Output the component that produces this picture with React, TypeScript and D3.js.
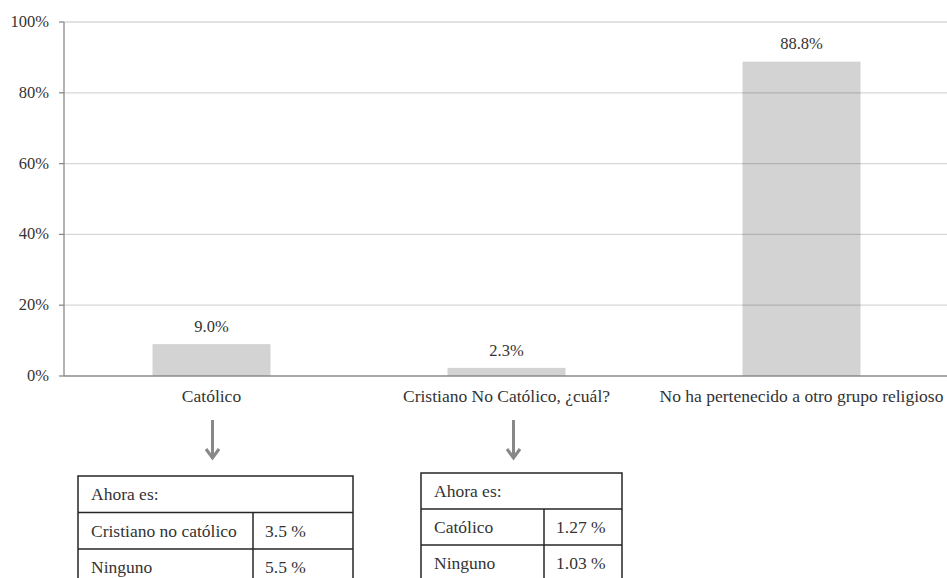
import React from "react";
import * as d3 from "d3";

// Religion left behind, share of respondents
const categories = [
  "Católico",
  "Cristiano No Católico, ¿cuál?",
  "No ha pertenecido a otro grupo religioso",
];
const values = [9.0, 2.3, 88.8];
const yTicks = [0, 20, 40, 60, 80, 100];

// Breakdown of what each group is now
const tableHeader = "Ahora es:";
const catolicoNowLabels = ["Cristiano no católico", "Ninguno"];
const catolicoNowValues = ["3.5 %", "5.5 %"];
const cristianoNowLabels = ["Católico", "Ninguno"];
const cristianoNowValues = ["1.27 %", "1.03 %"];

const W = 947;
const H = 578;
const FONT = "Liberation Serif, DejaVu Serif, Noto Serif, Times New Roman, serif";
const TEXT = "#333";
const FS_NUM = 16.5;
const FS_TXT = 17.5;

type TableProps = {
  x: number;
  y: number;
  w: number;
  col: number;
  rowH: number;
  labels: string[];
  vals: string[];
};

function NowTable({ x, y, w, col, rowH, labels, vals }: TableProps) {
  const bottom = y + rowH * (labels.length + 1);
  const stroke = "#262626";
  return (
    <g fontSize={FS_TXT} fill={TEXT}>
      <rect x={x} y={y} width={w} height={bottom - y} fill="none" stroke={stroke} strokeWidth={1.5} />
      {labels.map((_, i) => (
        <line key={i} x1={x} x2={x + w} y1={y + rowH * (i + 1)} y2={y + rowH * (i + 1)} stroke={stroke} strokeWidth={1.5} />
      ))}
      <line x1={x + col} x2={x + col} y1={y + rowH} y2={bottom} stroke={stroke} strokeWidth={1.5} />
      <text x={x + 13} y={y + rowH / 2} dy="0.35em">{tableHeader}</text>
      {labels.map((l, i) => (
        <g key={l}>
          <text x={x + 13} y={y + rowH * (i + 1.5)} dy="0.35em">{l}</text>
          <text x={x + col + 12} y={y + rowH * (i + 1.5)} dy="0.35em">{vals[i]}</text>
        </g>
      ))}
    </g>
  );
}

export default function App() {
  const left = 64;
  const right = 949;
  const top = 22;
  const base = 376;

  const x = d3.scaleBand<string>().domain(categories).range([left, right]).paddingInner(0.6).paddingOuter(0.3);
  const y = d3.scaleLinear().domain([0, 100]).range([base, top]);
  const center = (c: string) => (x(c) ?? 0) + x.bandwidth() / 2;

  const arrowXs = [center(categories[0]) + 1, center(categories[1]) + 7];
  const arrowTop = 420;
  const arrowTip = 458;

  return (
    <svg width={W} height={H} style={{ position: "absolute", left: 0, top: 0, background: "#fff", fontFamily: FONT }}>
      {/* bars */}
      {categories.map((c, i) => (
        <rect key={c} x={x(c)} y={y(values[i])} width={x.bandwidth()} height={base - y(values[i])} fill="#d3d3d3" />
      ))}

      {/* gridlines above the bars */}
      {yTicks.filter((t) => t > 0).map((t) => (
        <line key={t} x1={left} x2={W} y1={y(t)} y2={y(t)} stroke="rgba(0,0,0,0.16)" strokeWidth={1.3} />
      ))}

      {/* y axis */}
      <line x1={left} x2={left} y1={top} y2={base} stroke="#8a8a8a" strokeWidth={1.3} />
      {yTicks.map((t) => (
        <g key={t}>
          <line x1={left - 5} x2={left} y1={y(t)} y2={y(t)} stroke="#8a8a8a" strokeWidth={1.3} />
          <text x={left - 15} y={y(t)} dy="0.3em" textAnchor="end" fontSize={FS_NUM} fill={TEXT}>
            {t}%
          </text>
        </g>
      ))}

      {/* x axis */}
      <line x1={left} x2={W} y1={base} y2={base} stroke="#8a8a8a" strokeWidth={1.5} />
      {categories.map((c) => (
        <text key={c} x={center(c)} y={base + 20} dy="0.35em" textAnchor="middle" fontSize={FS_TXT} fill={TEXT}>
          {c}
        </text>
      ))}

      {/* value labels */}
      {categories.map((c, i) => (
        <text key={c} x={center(c)} y={y(values[i]) - 18} dy="0.35em" textAnchor="middle" fontSize={FS_NUM} fill={TEXT}>
          {values[i].toFixed(1)}%
        </text>
      ))}

      {/* arrows toward the breakdown tables */}
      {arrowXs.map((ax, i) => (
        <g key={i} stroke="#888" strokeWidth={3} fill="none" strokeLinecap="butt">
          <line x1={ax} x2={ax} y1={arrowTop} y2={arrowTip - 1} />
          <path d={`M${ax - 6.5},${arrowTip - 9} L${ax},${arrowTip} L${ax + 6.5},${arrowTip - 9}`} strokeLinejoin="miter" />
        </g>
      ))}

      <NowTable x={78} y={476} w={275} col={175} rowH={36.5} labels={catolicoNowLabels} vals={catolicoNowValues} />
      <NowTable x={421} y={473} w={201} col={123} rowH={36} labels={cristianoNowLabels} vals={cristianoNowValues} />
    </svg>
  );
}
